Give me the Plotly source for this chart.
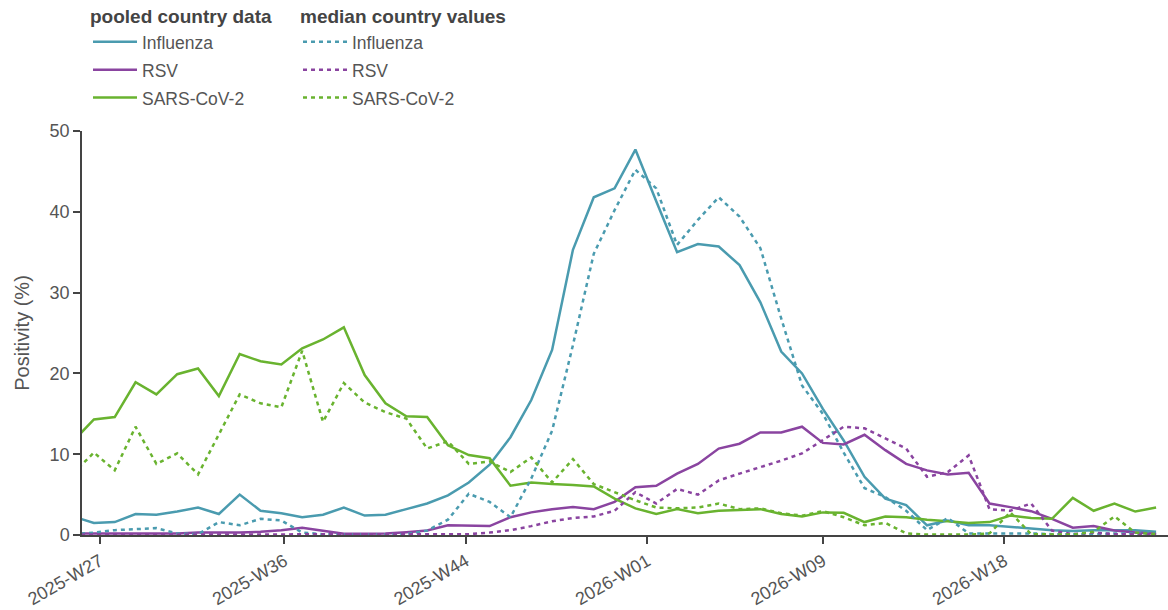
import pandas as pd
import plotly.graph_objects as go

# Weekly reporting points (week-ending Sundays), 2025-W25 .. 2026-W25
weeks = pd.date_range("2025-06-22", periods=53, freq="W-SUN")

# Positivity (%) from pooled country data
flu_pooled = [2.3, 1.5, 1.6, 2.6, 2.5, 2.9, 3.4, 2.6, 5.0, 3.0, 2.7, 2.2, 2.5, 3.4, 2.4, 2.5,
              3.2, 3.9, 4.9, 6.5, 8.7, 12.1, 16.7, 22.9, 35.3, 41.8, 42.9, 47.7, 41.3, 35.0,
              36.0, 35.7, 33.4, 28.8, 22.7, 20.0, 15.6, 11.7, 7.2, 4.5, 3.7, 1.2, 1.8, 1.2,
              1.2, 1.0, 0.8, 0.6, 0.5, 0.6, 0.6, 0.6, 0.4]
rsv_pooled = [0.2, 0.2, 0.2, 0.2, 0.2, 0.2, 0.3, 0.3, 0.3, 0.4, 0.6, 0.9, 0.55, 0.15, 0.15,
              0.2, 0.35, 0.55, 1.2, 1.15, 1.1, 2.2, 2.8, 3.2, 3.45, 3.2, 4.1, 5.9, 6.1, 7.6,
              8.8, 10.7, 11.3, 12.7, 12.7, 13.4, 11.4, 11.2, 12.4, 10.5, 8.8, 8.0, 7.5, 7.7,
              3.9, 3.45, 2.95, 2.0, 0.9, 1.1, 0.55, 0.3, 0.15]
sars_pooled = [11.6, 14.3, 14.6, 18.9, 17.4, 19.9, 20.6, 17.2, 22.4, 21.5, 21.1, 23.1, 24.2,
               25.7, 19.8, 16.3, 14.7, 14.6, 11.1, 9.9, 9.5, 6.1, 6.5, 6.3, 6.2, 6.0, 4.5,
               3.3, 2.6, 3.2, 2.7, 3.0, 3.1, 3.2, 2.6, 2.3, 2.8, 2.75, 1.6, 2.3, 2.2, 1.9,
               1.7, 1.5, 1.6, 2.4, 2.1, 2.0, 4.6, 3.0, 3.9, 2.9, 3.4]

# Positivity (%) as the median over countries
flu_median = [0.1, 0.3, 0.6, 0.7, 0.85, 0.2, 0.1, 1.6, 1.2, 2.0, 1.8, 0.3, 0.1, 0.1, 0.1, 0.1,
              0.1, 0.55, 1.9, 5.1, 4.1, 2.2, 7.0, 12.9, 23.5, 34.8, 40.2, 45.2, 42.9, 35.9,
              39.0, 41.8, 39.4, 35.5, 26.8, 18.5, 15.0, 10.2, 5.8, 4.7, 3.0, 0.6, 2.1, 0.2,
              0.2, 0.2, 0.2, 0.1, 0.1, 0.1, 0.2, 0.2, 0.2]
rsv_median = [0.05, 0.05, 0.05, 0.05, 0.05, 0.05, 0.05, 0.05, 0.05, 0.05, 0.05, 0.05, 0.05,
              0.05, 0.05, 0.05, 0.05, 0.05, 0.05, 0.1, 0.3, 0.6, 1.1, 1.7, 2.1, 2.3, 3.0, 5.3,
              3.9, 5.7, 5.0, 6.75, 7.6, 8.4, 9.2, 10.1, 11.7, 13.4, 13.2, 11.9, 10.7, 7.2,
              7.8, 9.85, 3.2, 3.0, 3.9, 0.55, 0.1, 0.3, 0.1, 0.1, 0.1]
sars_median = [7.6, 10.2, 8.0, 13.4, 8.8, 10.1, 7.5, 12.5, 17.4, 16.3, 15.8, 22.8, 14.0, 18.8,
               16.4, 15.2, 14.4, 10.7, 11.6, 8.8, 9.1, 7.8, 9.6, 6.5, 9.4, 6.3, 5.3, 4.3, 3.4,
               3.3, 3.4, 3.9, 3.2, 3.3, 2.7, 2.4, 2.95, 2.2, 1.2, 1.5, 0.2, 0.05, 0.05, 0.05,
               0.2, 2.8, 0.1, 0.05, 0.05, 0.4, 2.3, 0.3, 0.1]

pathogens = ["Influenza", "RSV", "SARS-CoV-2"]
colors = {"Influenza": "#4A9BAF", "RSV": "#8A44A0", "SARS-CoV-2": "#69B32F"}
pooled = {"Influenza": flu_pooled, "RSV": rsv_pooled, "SARS-CoV-2": sars_pooled}
median = {"Influenza": flu_median, "RSV": rsv_median, "SARS-CoV-2": sars_median}

FONT = "Liberation Sans, Arial, sans-serif"
W, H = 1168, 610
L, R, T, B = 82, 0, 131, 75
PW, PH = W - L - R, H - T - B


def entry(label):
    # legend rows are spaced by the legend font size; the label itself is a bit smaller
    return f"<span style='font-size:17.5px'>{label}</span>"


fig = go.Figure()
for p in pathogens:
    fig.add_trace(go.Scatter(
        x=weeks, y=pooled[p], name=entry(p), mode="lines", legend="legend",
        line=dict(color=colors[p], width=2.5),
    ))
for p in pathogens:
    fig.add_trace(go.Scatter(
        x=weeks, y=median[p], name=entry(p), mode="lines", legend="legend2",
        line=dict(color=colors[p], width=2.5, dash="4px,4px"),
    ))

legend_style = dict(
    xanchor="left", yanchor="top",
    orientation="v", bgcolor="rgba(0,0,0,0)", borderwidth=0,
    font=dict(family=FONT, size=19.2, color="#555"), itemwidth=44,
)
title_font = dict(family=FONT, size=19, color="#444")
legend_top = 1 + (T + 2) / PH
fig.update_layout(
    width=W, height=H,
    margin=dict(l=L, r=R, t=T, b=B, autoexpand=False),
    plot_bgcolor="white", paper_bgcolor="white",
    font=dict(family=FONT, size=16, color="#555"),
    legend=dict(x=(88 - L) / PW, y=legend_top,
                title=dict(text="<b>pooled country data</b>", font=title_font),
                **legend_style),
    legend2=dict(x=(298 - L) / PW, y=legend_top,
                 title=dict(text="<b>median country values</b>", font=title_font),
                 **legend_style),
    xaxis=dict(
        type="date", range=["2025-06-25", "2026-06-25"],
        dtick="M2", tick0="2025-07-01", tickformat="%Y-W%V", tickangle=-30,
        showgrid=False, zeroline=False, showline=True, linecolor="#444", linewidth=1.5,
        ticks="outside", ticklen=7, tickcolor="#444", tickwidth=1.5,
        tickfont=dict(family=FONT, size=18, color="#555"), automargin=False,
    ),
    yaxis=dict(
        range=[0, 50], dtick=10,
        showgrid=False, zeroline=False, showline=True, linecolor="#444", linewidth=1.5,
        ticks="outside", ticklen=7, tickcolor="#444", tickwidth=1.5,
        tickfont=dict(family=FONT, size=18, color="#555"), automargin=False,
        title=dict(text="Positivity (%)", font=dict(family=FONT, size=20, color="#555")),
    ),
)

fig.write_html("out.html")
